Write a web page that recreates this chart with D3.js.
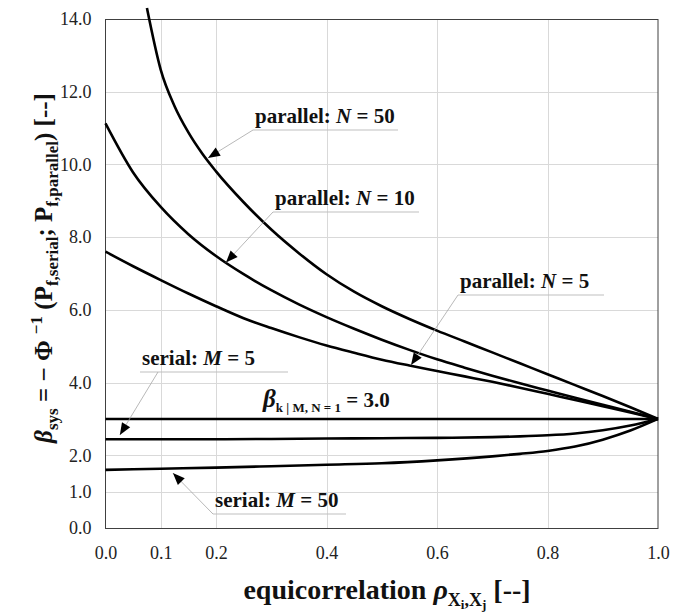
<!DOCTYPE html>
<html><head><meta charset="utf-8">
<script src="https://cdn.jsdelivr.net/npm/d3@7"></script>
<style>body{margin:0;background:#fff}svg{display:block}</style>
</head><body>
<svg id="c" width="674" height="613"></svg>
<script>
// ---------- data ----------
const rhoGrid = [0,0.05,0.1,0.15,0.2,0.25,0.3,0.35,0.4,0.45,0.5,0.55,0.6,0.65,0.7,0.75,0.8,0.85,0.9,0.95,1.0];
const rhoN50 = [0.075,0.1,0.125,0.15,0.175,0.2,0.25,0.3,0.35,0.4,0.45,0.5,0.55,0.6,0.65,0.7,0.75,0.8,0.85,0.9,0.95,1.0];
const betaParallelN50 = [14.3,12.6,11.6,10.88,10.3,9.81,8.96,8.21,7.56,6.98,6.5,6.1,5.75,5.43,5.13,4.83,4.53,4.23,3.93,3.63,3.32,3.0];
const betaParallelN10 = [11.13,9.78,8.83,8.08,7.48,6.98,6.54,6.15,5.8,5.48,5.18,4.9,4.64,4.41,4.19,3.98,3.78,3.58,3.39,3.2,3.0];
const betaParallelN5  = [7.6,7.2,6.82,6.45,6.1,5.77,5.5,5.25,5.02,4.82,4.63,4.47,4.32,4.17,4.02,3.86,3.69,3.52,3.35,3.18,3.0];
const rhoSerial = [0,0.1,0.2,0.3,0.4,0.5,0.6,0.7,0.75,0.8,0.85,0.9,0.95,1.0];
const betaSerialM5  = [2.44,2.44,2.44,2.45,2.46,2.47,2.48,2.5,2.52,2.55,2.6,2.69,2.82,3.0];
const betaSerialM50 = [1.6,1.63,1.66,1.7,1.74,1.78,1.86,1.97,2.04,2.12,2.24,2.43,2.68,3.0];
const rhoRef = [0,1];
const betaRef = [3.0,3.0];
const xTicks = [0,0.1,0.2,0.4,0.6,0.8,1.0];
const yTicks = [0,1,2,4,6,8,10,12,14];

// ---------- layout ----------
const svg = d3.select("#c");
const L = 105.5, R = 658, T = 19, B = 528;
const x = d3.scaleLinear().domain([0,1]).range([L,R]);
const y = d3.scaleLinear().domain([0,14]).range([B,T]);
const serif = "Liberation Serif";

// grid
const g = svg.append("g");
g.selectAll(".gx").data(xTicks.filter(d=>d>0&&d<1)).join("line")
  .attr("x1",d=>Math.round(x(d))+0.5).attr("x2",d=>Math.round(x(d))+0.5)
  .attr("y1",T).attr("y2",B).attr("stroke","#d9d9d9").attr("stroke-width",1);
g.selectAll(".gy").data(yTicks.filter(d=>d>0&&d<14)).join("line")
  .attr("y1",d=>Math.round(y(d))+0.5).attr("y2",d=>Math.round(y(d))+0.5)
  .attr("x1",L).attr("x2",R).attr("stroke","#d9d9d9").attr("stroke-width",1);
// frame
svg.append("rect").attr("x",L).attr("y",T+0.5).attr("width",R-L).attr("height",B-T)
  .attr("fill","none").attr("stroke","#404040").attr("stroke-width",1);

// axes (labels only, using d3 axes)
const xAxis = svg.append("g").attr("transform",`translate(0,${B})`)
  .call(d3.axisBottom(x).tickValues(xTicks).tickFormat(d3.format(".1f")).tickSize(0).tickPadding(18));
const yAxis = svg.append("g").attr("transform",`translate(${L},0)`)
  .call(d3.axisLeft(y).tickValues(yTicks).tickFormat(d3.format(".1f")).tickSize(0).tickPadding(14));
[xAxis,yAxis].forEach(a=>{
  a.select(".domain").remove();
  a.attr("font-family",null).attr("font-size",null);
  a.selectAll("text").style("font-family",serif).style("font-size","18px").attr("fill","#222");
});

// curves
const line = d3.line().x(d=>x(d[0])).y(d=>y(d[1])).curve(d3.curveMonotoneX);
const series = [
  [rhoN50, betaParallelN50],
  [rhoGrid, betaParallelN10],
  [rhoGrid, betaParallelN5],
  [rhoRef, betaRef],
  [rhoSerial, betaSerialM5],
  [rhoSerial, betaSerialM50]
];
svg.append("g").selectAll("path").data(series).join("path")
  .attr("d",s=>line(s[0].map((r,i)=>[r,s[1][i]])))
  .attr("fill","none").attr("stroke","#000").attr("stroke-width",2.6)
  .attr("stroke-linejoin","round");

// annotations: underline from ux1..ux2 at uy, text at ux1+2, leader from (lx,uy) to tip
const ann = svg.append("g");
function callout(tipR, tipB, ux1, uy, ux2, lx, parts){
  const tx = x(tipR), ty = y(tipB);
  ann.append("line").attr("x1",ux1).attr("y1",uy).attr("x2",ux2).attr("y2",uy)
    .attr("stroke","#bfbfbf").attr("stroke-width",1);
  ann.append("line").attr("x1",lx).attr("y1",uy).attr("x2",tx).attr("y2",ty)
    .attr("stroke","#a6a6a6").attr("stroke-width",0.8);
  const ang = Math.atan2(ty-uy, tx-lx), len = 12, hw = 4.8;
  const bx = tx - len*Math.cos(ang), by = ty - len*Math.sin(ang);
  const px = -Math.sin(ang)*hw, py = Math.cos(ang)*hw;
  ann.append("path").attr("d",`M${tx},${ty}L${bx+px},${by+py}L${bx-px},${by-py}Z`).attr("fill","#000");
  const t = ann.append("text").attr("x",ux1+2).attr("y",uy-7)
    .style("font-family",serif).style("font-size","21px").style("font-weight","bold").attr("fill","#111");
  parts.forEach(p=>{ t.append("tspan").style("font-style",p[1]?"italic":"normal").text(p[0]); });
}
callout(0.1855,10.18, 253,130, 398, 253, [["parallel: ",0],["N",1],[" = 50",0]]);
callout(0.218,7.3, 273,212, 419, 273, [["parallel: ",0],["N",1],[" = 10",0]]);
callout(0.553,4.48, 458,295, 604, 458, [["parallel: ",0],["N",1],[" = 5",0]]);
callout(0.026,2.56, 140,372, 288, 158, [["serial: ",0],["M",1],[" = 5",0]]);
callout(0.122,1.51, 213,514, 346, 213, [["serial: ",0],["M",1],[" = 50",0]]);

// reference level label
const rl = svg.append("text").attr("x",263).attr("y",407)
  .style("font-family",serif).style("font-size","21px").style("font-weight","bold").attr("fill","#111");
rl.append("tspan").style("font-style","italic").style("font-size","25px").text("β");
rl.append("tspan").style("font-size","13px").attr("dy",5).text("k | M, N = 1");
rl.append("tspan").attr("dy",-5).text(" = 3.0");

// x title
const xt = svg.append("text").attr("x",387).attr("y",599).attr("text-anchor","middle")
  .style("font-family",serif).style("font-size","28px").style("font-weight","bold").attr("fill","#111");
xt.append("tspan").text("equicorrelation ");
xt.append("tspan").style("font-style","italic").text("ρ");
xt.append("tspan").style("font-size","18px").attr("dy",7).text("X");
xt.append("tspan").style("font-size","13px").attr("dy",3).text("i");
xt.append("tspan").style("font-size","18px").attr("dy",-3).text(",X");
xt.append("tspan").style("font-size","13px").attr("dy",3).text("j");
xt.append("tspan").attr("dy",-10).text(" [--]");

// y title
const yt = svg.append("text").attr("transform","translate(52,268) rotate(-90)").attr("text-anchor","middle")
  .style("font-family",serif).style("font-size","25px").style("font-weight","bold").attr("fill","#111");
yt.append("tspan").style("font-style","italic").text("β");
yt.append("tspan").style("font-size","17px").attr("dy",6).text("sys");
yt.append("tspan").attr("dy",-6).text(" = − Φ ");
yt.append("tspan").style("font-size","17px").attr("dy",-10).text("−1");
yt.append("tspan").attr("dy",10).text(" (P");
yt.append("tspan").style("font-size","17px").attr("dy",6).text("f,serial");
yt.append("tspan").attr("dy",-6).text("; P");
yt.append("tspan").style("font-size","17px").attr("dy",6).text("f,parallel");
yt.append("tspan").attr("dy",-6).text(") [--]");
</script>
</body></html>
